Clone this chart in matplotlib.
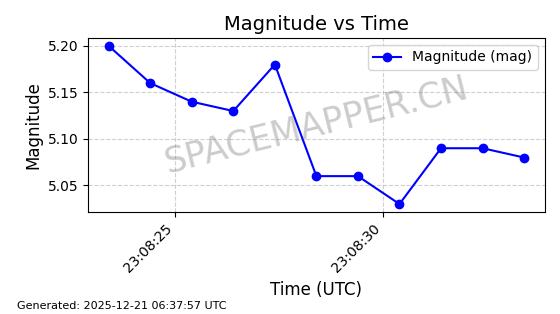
import numpy as np
import pandas as pd
import matplotlib
matplotlib.use("Agg")
import matplotlib.pyplot as plt
import matplotlib.dates as mdates

# === Data ===
times = pd.to_datetime([
    "2025-12-20 23:08:23.4", "2025-12-20 23:08:24.4", "2025-12-20 23:08:25.4",
    "2025-12-20 23:08:26.4", "2025-12-20 23:08:27.4", "2025-12-20 23:08:28.4",
    "2025-12-20 23:08:29.4", "2025-12-20 23:08:30.4", "2025-12-20 23:08:31.4",
    "2025-12-20 23:08:32.4", "2025-12-20 23:08:33.4",
])
magnitude = [5.20, 5.16, 5.14, 5.13, 5.18, 5.06, 5.06, 5.03, 5.09, 5.09, 5.08]

# === Plot ===
fig, ax = plt.subplots(figsize=(5.6, 3.14), dpi=100)
fig.subplots_adjust(left=0.157, right=0.973, top=0.879, bottom=0.325)

ax.plot(times, magnitude, marker='o', color='blue', linestyle='-', label='Magnitude (mag)')

ax.set_title("Magnitude vs Time", fontsize=14)
ax.set_xlabel("Time (UTC)", fontsize=12)
ax.set_ylabel("Magnitude", fontsize=12)
ax.grid(True, linestyle='--', alpha=0.6)
ax.legend(loc='upper right')

ax.xaxis.set_major_locator(mdates.SecondLocator(bysecond=range(0, 60, 5)))
ax.xaxis.set_major_formatter(mdates.DateFormatter('%H:%M:%S'))
plt.setp(ax.get_xticklabels(), rotation=45, ha='right')

# === Watermark ===
ax.text(0.5, 0.5, "SPACEMAPPER.CN", transform=ax.transAxes, fontsize=25,
        color='gray', alpha=0.4, ha='center', va='center', rotation=14)

fig.text(0.03, 0.015, "Generated: 2025-12-21 06:37:57 UTC", fontsize=8)

plt.savefig("out.png", dpi=100)
